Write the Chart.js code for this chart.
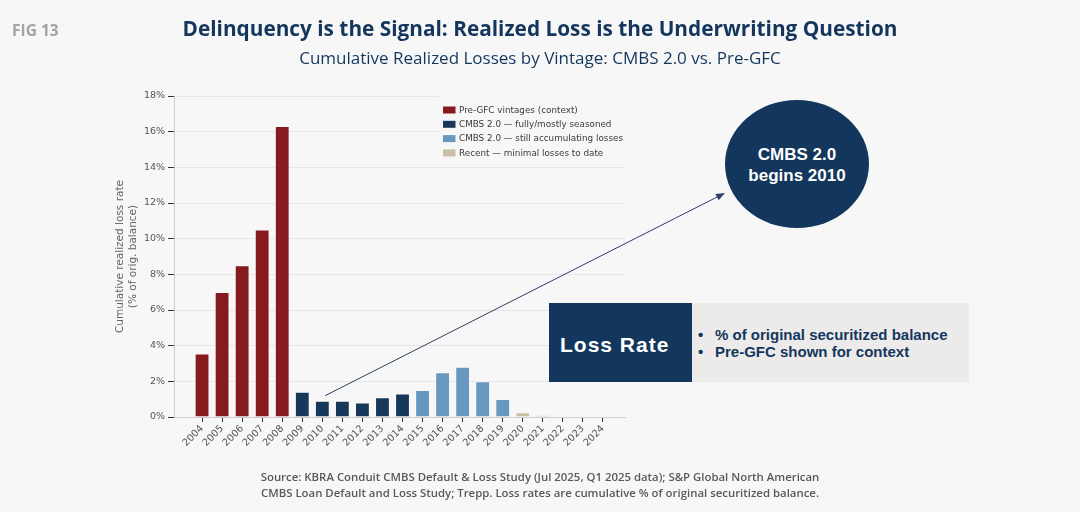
<!DOCTYPE html>
<html>
<head>
<meta charset="utf-8">
<script src="https://cdn.jsdelivr.net/npm/chart.js@4.4.1/dist/chart.umd.min.js"></script>
<style>
  html, body { margin: 0; padding: 0; }
  body { width: 1080px; height: 512px; background: #f7f7f7; position: relative; overflow: hidden; font-family: "Open Sans", sans-serif; }
  #wrap { position: absolute; left: 0; top: 0; width: 1080px; height: 512px; }
  .fig { position: absolute; left: 12px; top: 19px; font-size: 15.5px; font-weight: 700; color: #a3a3a3; }
  .title { position: absolute; left: 0; width: 1080px; top: 14px; text-align: center; font-size: 20.8px; font-weight: 700; color: #14365d; }
  .subtitle { position: absolute; left: 0; width: 1080px; top: 46px; text-align: center; font-size: 17px; color: #14365d; }
  .source { position: absolute; left: 0; width: 1080px; top: 469px; text-align: center; font-size: 11.4px; font-weight: 600; color: #595959; line-height: 16px; }
  .bubble { position: absolute; left: 725px; top: 100px; width: 144px; height: 128px; border-radius: 50%; background: #12365c;
            color: #fff; font-family: "Liberation Sans", Arial, sans-serif; font-weight: 700; font-size: 17px; line-height: 21px;
            display: flex; align-items: center; justify-content: center; text-align: center; padding-top: 2px; box-sizing: border-box; }
  .lr { position: absolute; left: 549px; top: 303px; width: 143px; height: 79px; background: #12365c; color: #fff;
        font-family: "Liberation Sans", Arial, sans-serif; font-weight: 700; font-size: 21px; letter-spacing: 1px;
        display: flex; align-items: center; padding-left: 11px; padding-top: 4px; box-sizing: border-box; }
  .notes { position: absolute; left: 692px; top: 303px; width: 277px; height: 79px; background: #ecebea; color: #14365d;
           font-family: "Liberation Sans", Arial, sans-serif; font-weight: 700; font-size: 15px; line-height: 17px;
           display: flex; flex-direction: column; justify-content: center; padding-left: 6px; padding-top: 1px; box-sizing: border-box; }
  .notes span::before { content: "\2022"; display: inline-block; width: 17px; }
</style>
</head>
<body>
<div id="wrap"><canvas id="lossChart"></canvas></div>
<div class="fig">FIG 13</div>
<div class="title">Delinquency is the Signal: Realized Loss is the Underwriting Question</div>
<div class="subtitle">Cumulative Realized Losses by Vintage: CMBS 2.0 vs. Pre-GFC</div>
<div class="bubble">CMBS 2.0<br>begins 2010</div>
<div class="lr">Loss Rate</div>
<div class="notes"><span>% of original securitized balance</span><span>Pre-GFC shown for context</span></div>
<div class="source">Source: KBRA Conduit CMBS Default &amp; Loss Study (Jul 2025, Q1 2025 data); S&amp;P Global North American<br>CMBS Loan Default and Loss Study; Trepp. Loss rates are cumulative % of original securitized balance.</div>

<script>
// vintages and cumulative realized loss rate (%)
const vintages = [2004, 2005, 2006, 2007, 2008, 2009, 2010, 2011, 2012, 2013, 2014,
                  2015, 2016, 2017, 2018, 2019, 2020, 2021, 2022, 2023, 2024];
const lossRate = [3.55, 7.0, 8.5, 10.5, 16.3, 1.4, 0.9, 0.9, 0.8, 1.1, 1.3,
                  1.5, 2.5, 2.8, 2.0, 1.0, 0.25, 0.1, 0.03, 0.02, 0.0];
// which group each vintage belongs to (index into groupNames)
const cohort = [0, 0, 0, 0, 0, 1, 1, 1, 1, 1, 1,
                2, 2, 2, 2, 2, 3, 3, 3, 3, 3];
const groupNames = ['Pre-GFC vintages (context)', 'CMBS 2.0 \u2014 fully/mostly seasoned',
                    'CMBS 2.0 \u2014 still accumulating losses', 'Recent \u2014 minimal losses to date'];
const groupColors = ['#861b1f', '#17375b', '#6898bf', '#c9bfa6'];
const yTicks = [0, 2, 4, 6, 8, 10, 12, 14, 16, 18];

const datasets = groupNames.map((name, g) => ({
  label: name,
  backgroundColor: groupColors[g],
  borderColor: 'rgba(255,255,255,0.55)',
  borderWidth: 0.8,
  barPercentage: 0.72,
  categoryPercentage: 1,
  grouped: false,
  data: vintages.map((v, i) => cohort[i] === g ? { x: v, y: lossRate[i] } : null).filter(d => d)
}));

// legend inside the plot, top right
const insideLegend = {
  id: 'insideLegend',
  afterDatasetsDraw(chart) {
    const ctx = chart.ctx;
    const x0 = 443, y0 = 104;
    ctx.save();
    ctx.fillStyle = '#f7f7f7';
    ctx.fillRect(x0 - 4, y0 - 8, chart.chartArea.right - x0 + 3, 64);
    ctx.font = '8.8px "DejaVu Sans"';
    ctx.textBaseline = 'middle';
    chart.data.datasets.forEach((ds, i) => {
      const y = y0 + 6 + i * 14.3;
      ctx.fillStyle = ds.backgroundColor;
      ctx.fillRect(x0, y - 3.5, 12.5, 7);
      ctx.fillStyle = '#3a3a3a';
      ctx.fillText(ds.label, x0 + 16, y + 0.5);
    });
    ctx.restore();
  }
};

// arrow from the 2010 bar to the CMBS 2.0 bubble
const startArrow = {
  id: 'startArrow',
  afterDraw(chart) {
    const xs = chart.scales.x, ys = chart.scales.y;
    const i = vintages.indexOf(2010);
    const sx = xs.getPixelForValue(2010) + 3, sy = ys.getPixelForValue(lossRate[i] + 0.3);
    const ex = 725, ey = 193;
    const ang = Math.atan2(ey - sy, ex - sx);
    const ctx = chart.ctx;
    ctx.save();
    ctx.strokeStyle = '#2c3f66';
    ctx.fillStyle = '#2c3f66';
    ctx.lineWidth = 1;
    ctx.beginPath();
    ctx.moveTo(sx, sy);
    ctx.lineTo(ex - 8 * Math.cos(ang), ey - 8 * Math.sin(ang));
    ctx.stroke();
    ctx.beginPath();
    ctx.moveTo(ex, ey);
    ctx.lineTo(ex - 9 * Math.cos(ang) + 3.5 * Math.sin(ang), ey - 9 * Math.sin(ang) - 3.5 * Math.cos(ang));
    ctx.lineTo(ex - 9 * Math.cos(ang) - 3.5 * Math.sin(ang), ey - 9 * Math.sin(ang) + 3.5 * Math.cos(ang));
    ctx.closePath();
    ctx.fill();
    ctx.restore();
  }
};

new Chart(document.getElementById('lossChart'), {
  type: 'bar',
  data: { datasets: datasets },
  plugins: [insideLegend, startArrow],
  options: {
    responsive: true,
    maintainAspectRatio: false,
    animation: false,
    layout: { padding: { left: 110, top: 96, right: 455, bottom: 0 } },
    plugins: { legend: { display: false }, tooltip: { enabled: false } },
    scales: {
      x: {
        type: 'linear',
        offset: false,
        min: 2002.6,
        max: 2025.1,
        afterBuildTicks: s => { s.ticks = vintages.map(v => ({ value: v })); },
        afterFit: s => { s.height = 95; },
        grid: { offset: false, drawOnChartArea: false, drawTicks: true, tickLength: 5, tickColor: '#333', tickWidth: 1 },
        border: { color: '#cfcfcf', width: 1 },
        ticks: {
          autoSkip: false,
          maxRotation: 45,
          minRotation: 45,
          padding: 1,
          color: '#555',
          font: { family: 'DejaVu Sans', size: 9.8 },
          callback: v => String(v)
        }
      },
      y: {
        min: 0,
        max: 18,
        afterBuildTicks: s => { s.ticks = yTicks.map(v => ({ value: v })); },
        afterFit: s => { s.width = 64; },
        grid: { color: '#e6e6e6', lineWidth: 1, tickLength: 6, tickColor: '#333' },
        border: { color: '#cfcfcf', width: 1 },
        ticks: {
          padding: 3,
          color: '#555',
          font: { family: 'DejaVu Sans', size: 9.5 },
          callback: v => v + '%'
        },
        title: {
          display: true,
          text: ['Cumulative realized loss rate', '(% of orig. balance)'],
          color: '#666',
          font: { family: 'DejaVu Sans', size: 10.5 },
          padding: { top: 4, bottom: 0 }
        }
      }
    }
  }
});
</script>
</body>
</html>
